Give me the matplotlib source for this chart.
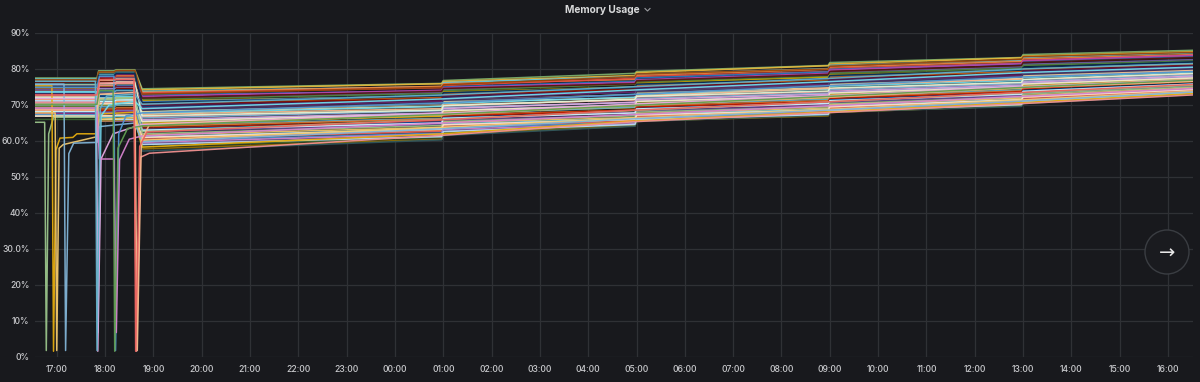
import matplotlib
matplotlib.use("Agg")
import matplotlib.pyplot as plt
import matplotlib.dates as mdates
from matplotlib.patches import Ellipse
from matplotlib.lines import Line2D
from datetime import datetime

# ---------------- data (memory usage %) ----------------
knot_times = ["16:33", "17:50", "17:52", "18:11", "18:14", "18:37", "18:46",
              "00:58", "01:00", "04:58", "05:00", "08:58", "09:00", "12:58", "13:00", "16:31"]

pre_1633 = [77.5, 76.0, 77.2, 70.9, 76.2, 75.9, 74.4, 75.3, 76.8, 74.6,
            73.1, 74.0, 76.6, 73.4, 73.0, 72.7, 75.7, 72.0, 71.7, 71.4,
            71.0, 76.4, 70.4, 70.0, 69.7, 75.0, 69.0, 68.7, 68.4, 68.0,
            67.7, 74.2, 67.0, 67.2, 73.7, 71.6, 72.5, 67.3, 68.9, 70.7,
            66.0, 69.3, 76.0, 77.0, 76.3, 75.1, 74.8, 73.2, 72.2, 70.2,
            68.2, 66.9, 71.2]
bump_1752 = [79.5, 79.0, 78.5, 78.0, 77.5, 77.0, 76.5, 76.0, 75.8, 75.2,
             74.8, 76.5, 77.2, 73.8, 77.8, 73.2, 72.9, 76.8, 72.0, 71.8,
             75.5, 71.0, 70.6, 74.5, 70.0, 69.6, 73.5, 68.9, 68.5, 72.5,
             67.9, 67.5, 71.5, 66.9, 66.5, 70.5, 65.9, 69.5, 65.5, 68.0,
             66.2, 65.6, 78.8, 79.2, 76.5, 78.2, 74.9, 73.3, 76.0, 70.3,
             71.0, 67.0, 66.0]
bump_1815 = [79.8, 79.3, 79.0, 78.2, 77.8, 77.4, 77.0, 76.8, 76.2, 75.9,
             75.5, 75.0, 74.6, 74.2, 78.5, 73.5, 73.0, 77.2, 72.4, 72.0,
             76.0, 71.5, 71.0, 75.0, 70.2, 69.9, 74.0, 69.2, 68.8, 73.0,
             68.1, 67.8, 72.0, 67.1, 66.8, 71.0, 66.1, 70.0, 65.6, 68.5,
             66.3, 65.8, 79.2, 79.6, 76.6, 78.8, 75.1, 73.4, 76.4, 70.5,
             71.4, 67.2, 66.0]
at_1846 = [74.5, 74.2, 73.8, 73.5, 73.3, 72.8, 72.4, 71.9, 71.6, 71.2,
           70.9, 70.4, 70.0, 69.5, 69.2, 68.8, 68.2, 68.0, 67.6, 67.4,
           66.8, 66.4, 65.9, 65.6, 65.2, 64.9, 64.4, 64.0, 63.5, 63.2,
           62.8, 62.6, 62.0, 61.6, 61.1, 60.8, 60.4, 59.9, 59.6, 59.2,
           58.4, 57.8, 57.2, 73.0, 71.9, 70.6, 69.9, 68.6, 67.0, 65.4,
           63.0, 61.0, 59.0]
at_0058 = [76.0, 75.9, 75.1, 75.2, 74.8, 73.9, 74.1, 73.5, 73.2, 72.4,
           72.6, 72.1, 71.8, 71.0, 71.0, 70.4, 70.3, 69.7, 69.6, 69.0,
           68.5, 68.4, 67.8, 67.7, 67.0, 66.9, 66.3, 66.1, 65.6, 65.3,
           65.0, 64.6, 64.3, 63.8, 63.4, 63.0, 62.7, 62.2, 61.9, 61.4,
           61.0, 60.5, 60.3, 74.9, 73.8, 72.5, 71.3, 70.4, 68.6, 67.5,
           65.0, 63.3, 61.2]
at_0100 = [76.8, 76.5, 76.2, 75.9, 75.4, 75.0, 74.8, 74.3, 74.0, 73.6,
           73.3, 73.0, 72.6, 72.2, 71.8, 71.5, 71.1, 70.8, 70.4, 70.0,
           69.7, 69.3, 69.0, 68.6, 68.2, 67.9, 67.5, 67.2, 66.8, 66.5,
           66.1, 65.8, 65.4, 65.1, 64.7, 64.4, 64.0, 63.6, 63.2, 62.8,
           62.3, 61.8, 61.5, 75.6, 74.6, 73.4, 72.4, 71.3, 69.8, 68.4,
           66.3, 64.5, 62.6]
at_0458 = [78.8, 78.2, 77.9, 77.1, 77.4, 76.6, 76.3, 75.9, 75.8, 75.0,
           74.9, 74.2, 74.4, 73.5, 73.6, 72.8, 72.9, 72.0, 72.2, 71.4,
           71.5, 70.7, 70.8, 70.0, 70.1, 69.3, 69.4, 68.6, 68.6, 67.9,
           67.9, 67.2, 67.0, 66.5, 66.2, 65.8, 65.5, 65.2, 64.8, 64.6,
           64.3, 64.2, 64.1, 77.9, 75.9, 74.9, 74.0, 72.7, 71.6, 69.9,
           67.8, 66.0, 64.6]
at_0500 = [79.3, 79.0, 78.5, 78.2, 77.9, 77.5, 77.0, 76.8, 76.4, 76.0,
           75.6, 75.3, 75.0, 74.6, 74.3, 73.9, 73.6, 73.2, 72.9, 72.5,
           72.2, 71.8, 71.5, 71.1, 70.8, 70.4, 70.1, 69.7, 69.4, 69.0,
           68.7, 68.3, 68.0, 67.6, 67.3, 66.9, 66.6, 66.3, 66.0, 65.8,
           65.6, 65.5, 65.4, 78.6, 76.7, 75.8, 74.8, 73.7, 72.4, 71.0,
           68.9, 67.2, 65.9]
at_0858 = [81.0, 80.9, 80.1, 79.9, 79.3, 79.2, 78.8, 78.5, 77.9, 77.7,
           77.1, 77.0, 76.4, 76.3, 75.8, 75.5, 75.1, 74.8, 74.4, 74.6,
           73.7, 73.3, 73.0, 72.6, 72.3, 71.9, 71.6, 71.2, 70.9, 70.5,
           70.2, 69.8, 69.5, 69.1, 68.8, 68.4, 68.1, 67.9, 67.5, 67.4,
           67.1, 67.0, 67.2, 80.0, 78.5, 77.3, 76.3, 75.2, 73.9, 72.4,
           70.4, 68.6, 67.4]
at_0900 = [81.8, 81.4, 81.0, 80.5, 80.2, 79.9, 79.7, 79.1, 78.8, 78.4,
           78.0, 77.7, 77.3, 77.0, 76.6, 76.3, 75.9, 75.6, 75.2, 75.5,
           74.5, 74.2, 73.8, 73.5, 73.1, 72.8, 72.4, 72.1, 71.7, 71.4,
           71.0, 70.7, 70.3, 70.0, 69.6, 69.3, 69.0, 68.7, 68.4, 68.2,
           68.0, 67.9, 68.0, 80.8, 79.3, 78.2, 77.1, 76.1, 74.7, 73.3,
           71.2, 69.5, 68.3]
at_1258 = [83.2, 83.1, 82.4, 82.1, 81.6, 81.4, 81.5, 80.6, 80.2, 79.6,
           79.5, 79.3, 78.8, 78.6, 78.2, 77.9, 77.5, 77.3, 76.8, 77.2,
           76.2, 75.9, 75.5, 75.3, 74.8, 74.6, 74.2, 73.9, 73.7, 73.3,
           72.8, 72.6, 72.2, 71.9, 71.5, 71.3, 70.8, 70.6, 70.2, 70.1,
           69.8, 69.8, 69.6, 82.7, 81.0, 79.7, 78.6, 77.8, 76.3, 75.0,
           73.0, 71.5, 70.1]
at_1300 = [84.0, 83.6, 83.2, 82.8, 82.4, 82.0, 82.3, 81.3, 81.0, 80.2,
           80.3, 80.0, 79.6, 79.3, 79.0, 78.6, 78.3, 78.0, 77.6, 77.9,
           77.0, 76.6, 76.3, 76.0, 75.6, 75.3, 75.0, 74.6, 74.5, 74.0,
           73.6, 73.3, 73.0, 72.6, 72.3, 72.0, 71.6, 71.3, 71.0, 70.8,
           70.6, 70.5, 70.4, 83.4, 81.8, 80.4, 79.4, 78.5, 77.1, 75.8,
           73.8, 72.2, 70.9]
at_1631 = [85.2, 84.8, 84.5, 84.0, 83.7, 83.4, 83.8, 82.6, 82.2, 81.4,
           81.6, 81.3, 81.0, 80.7, 80.4, 80.1, 79.8, 79.5, 79.2, 79.6,
           78.6, 78.3, 78.0, 77.7, 77.4, 77.1, 76.8, 76.5, 76.9, 75.9,
           75.6, 75.3, 75.0, 74.7, 73.9, 74.1, 73.9, 73.7, 73.5, 73.3,
           73.1, 73.0, 72.9, 84.6, 83.2, 82.0, 80.9, 80.0, 78.8, 77.5,
           75.8, 74.3, 73.4]

# series that restart (drop to ~0 and come back)
drop_a_times = ["16:33", "16:45", "16:47", "16:50", "16:56", "17:50", "17:53", "18:37", "18:46",
                "01:00", "05:00", "09:00", "13:00", "16:31"]
drop_a_values = [65.2, 65.2, 1.8, 62.0, 66.6, 66.6, 71.5, 72.0, 62.6, 66.0, 68.5, 70.9, 73.4, 75.5]
drop_b_times = ["16:33", "16:54", "16:56", "16:59", "17:04", "17:20", "17:25", "17:50", "17:53",
                "18:37", "18:46", "01:00", "05:00", "09:00", "13:00", "16:31"]
drop_b_values = [75.3, 75.3, 1.6, 57.5, 60.8, 61.0, 62.0, 62.0, 67.5, 68.0, 58.3, 62.0, 65.6, 68.1, 70.7, 73.2]
drop_c_times = ["16:33", "16:58", "17:00", "17:03", "17:08", "17:50", "17:53", "18:37", "18:46",
                "01:00", "05:00", "09:00", "13:00", "16:31"]
drop_c_values = [67.8, 67.8, 1.8, 58.0, 59.0, 61.2, 66.0, 66.5, 60.2, 63.8, 66.4, 68.8, 71.4, 73.8]
drop_d_times = ["16:33", "17:09", "17:11", "17:15", "17:21", "17:50", "17:53", "18:37", "18:46",
                "01:00", "05:00", "09:00", "13:00", "16:31"]
drop_d_values = [75.8, 75.8, 1.8, 56.5, 59.4, 59.6, 64.0, 65.0, 59.8, 63.4, 66.2, 68.6, 71.1, 73.6]
drop_e_times = ["16:33", "17:49", "17:51", "17:55", "18:05", "18:37", "18:46",
                "01:00", "05:00", "09:00", "13:00", "16:31"]
drop_e_values = [73.6, 73.6, 6.8, 67.0, 70.0, 71.0, 69.0, 71.7, 74.2, 76.5, 79.0, 80.5]
drop_f_times = ["16:33", "17:49", "17:51", "17:55", "18:10", "18:37", "18:46",
                "01:00", "05:00", "09:00", "13:00", "16:31"]
drop_f_values = [71.8, 71.8, 1.6, 55.0, 62.0, 64.0, 64.6, 67.7, 70.3, 72.6, 75.1, 77.0]
drop_g_times = ["16:33", "17:50", "17:53", "18:11", "18:13", "18:17", "18:26", "18:46",
                "01:00", "05:00", "09:00", "13:00", "16:31"]
drop_g_values = [74.9, 74.9, 78.0, 78.0, 1.8, 62.0, 67.0, 67.8, 70.6, 73.0, 75.4, 77.8, 79.3]
drop_h_times = ["16:33", "17:50", "17:53", "18:11", "18:14", "18:18", "18:30", "18:46",
                "01:00", "05:00", "09:00", "13:00", "16:31"]
drop_h_values = [69.2, 69.2, 55.0, 55.0, 6.8, 54.8, 60.5, 61.4, 65.0, 67.4, 69.8, 72.4, 74.6]
drop_i_times = ["16:33", "17:50", "17:53", "18:36", "18:39", "18:44", "18:55",
                "01:00", "05:00", "09:00", "13:00", "16:31"]
drop_i_values = [70.6, 70.6, 76.0, 76.4, 1.6, 55.5, 56.6, 61.6, 65.4, 67.9, 70.4, 72.8]
drop_j_times = ["16:33", "17:50", "17:53", "18:37", "18:40", "18:45", "18:55",
                "01:00", "05:00", "09:00", "13:00", "16:31"]
drop_j_values = [68.6, 68.6, 73.0, 73.5, 1.8, 60.0, 64.5, 67.3, 69.9, 72.2, 74.8, 76.6]
drop_k_times = ["16:33", "17:48", "17:50", "17:54", "18:02", "18:37", "18:46",
                "01:00", "05:00", "09:00", "13:00", "16:31"]
drop_k_values = [76.6, 76.6, 1.8, 69.0, 72.5, 73.0, 70.2, 72.8, 75.1, 77.4, 80.0, 81.5]
drop_l_times = ["16:33", "17:50", "17:53", "18:10", "18:12", "18:16", "18:28", "18:46",
                "01:00", "05:00", "09:00", "13:00", "16:31"]
drop_l_values = [70.2, 70.2, 74.0, 74.0, 1.6, 58.0, 63.5, 64.2, 67.4, 69.9, 72.4, 74.9, 76.9]
drop_m_times = ["16:33", "17:50", "17:53", "18:36", "18:38", "18:43", "18:52",
                "01:00", "05:00", "09:00", "13:00", "16:31"]
drop_m_values = [72.8, 72.8, 77.0, 77.2, 1.6, 58.5, 62.5, 65.9, 68.6, 70.9, 73.5, 75.7]

y_ticks = [0, 10, 20, 30, 40, 50, 60, 70, 80, 90]
y_tick_labels = ["0%", "10%", "20%", "30.0%", "40%", "50%", "60.0%", "70%", "80%", "90%"]
title_text = "Memory Usage"

palette = ["#7EB26D", "#EAB839", "#6ED0E0", "#EF843C", "#E24D42", "#1F78C1", "#BA43A9", "#705DA0",
           "#508642", "#CCA300", "#447EBC", "#C15C17", "#890F02", "#0A437C", "#6D1F62", "#584477",
           "#B7DBAB", "#F4D598", "#70DBED", "#F9BA8F", "#F29191", "#82B5D8", "#E5A8E2", "#AEA2E0",
           "#629E51", "#E5AC0E", "#64B0C8", "#E0752D", "#BF1B00", "#0A50A1", "#962D82", "#614D93",
           "#9AC48A", "#F2C96D", "#65C5DB", "#F9934E", "#EA6460", "#5195CE", "#D683CE", "#806EB7",
           "#3F6833", "#967302", "#2F575E", "#99440A", "#58140C", "#052B51", "#511749", "#3F2B5B",
           "#E0F9D7", "#FCEACA", "#CFFAFF", "#F9E2D2", "#BADFF4"]

BG = "#18191d"
GRID = "#2f3135"
TXT = "#c9cacd"


def to_dt(hhmm):
    h, m = map(int, hhmm.split(":"))
    day = 1 if (h, m) >= (16, 32) else 2
    return datetime(2024, 1, day, h, m)


fig = plt.figure(figsize=(12, 3.82), dpi=100, facecolor=BG)
ax = fig.add_axes([35 / 1200, 1 - 357 / 382, (1193 - 35) / 1200, (357 - 33) / 382])
ax.set_facecolor(BG)

kt = [to_dt(t) for t in knot_times]
for i in range(len(pre_1633)):
    vals = [pre_1633[i], pre_1633[i], bump_1752[i], bump_1752[i], bump_1815[i], bump_1815[i],
            at_1846[i], at_0058[i], at_0100[i], at_0458[i], at_0500[i], at_0858[i], at_0900[i],
            at_1258[i], at_1300[i], at_1631[i]]
    ax.plot(kt, vals, color=palette[i % len(palette)], lw=1.1, alpha=0.92)

drops = [(drop_a_times, drop_a_values, "#9AC48A"),
         (drop_b_times, drop_b_values, "#E5AC0E"),
         (drop_c_times, drop_c_values, "#F2C96D"),
         (drop_d_times, drop_d_values, "#82B5D8"),
         (drop_e_times, drop_e_values, "#70DBED"),
         (drop_f_times, drop_f_values, "#E5A8E2"),
         (drop_g_times, drop_g_values, "#5195CE"),
         (drop_h_times, drop_h_values, "#D683CE"),
         (drop_i_times, drop_i_values, "#F29191"),
         (drop_j_times, drop_j_values, "#F9BA8F"),
         (drop_k_times, drop_k_values, "#64B0C8"),
         (drop_l_times, drop_l_values, "#629E51"),
         (drop_m_times, drop_m_values, "#EA6460")]
for times, vals, col in drops:
    ax.plot([to_dt(t) for t in times], vals, color=col, lw=1.1, alpha=0.95)

ax.set_xlim(to_dt("16:33"), to_dt("16:31"))
ax.set_ylim(0, 90)
ax.set_yticks(y_ticks)
ax.set_yticklabels(y_tick_labels)
ax.xaxis.set_major_locator(mdates.HourLocator())
ax.xaxis.set_major_formatter(mdates.DateFormatter("%H:%M"))
ax.grid(True, color=GRID, lw=0.9)
ax.set_axisbelow(True)
for s in ax.spines.values():
    s.set_visible(False)
ax.tick_params(axis="both", length=0, colors=TXT, labelsize=6.2)
ax.tick_params(axis="x", pad=6)
ax.tick_params(axis="y", pad=4)
for lab in ax.get_xticklabels() + ax.get_yticklabels():
    lab.set_fontfamily("Inter")
    lab.set_fontweight("medium")

# title with chevron
fig.text(602 / 1200, 1 - 10 / 382, title_text, ha="center", va="center", color="#d8d9da",
         fontsize=7.3, fontweight="bold", family="Inter")
chev = Line2D([645 / 1200, 647.5 / 1200, 650 / 1200], [1 - 8.5 / 382, 1 - 11 / 382, 1 - 8.5 / 382],
              transform=fig.transFigure, color="#9a9ca0", lw=0.8)
fig.add_artist(chev)

# navigation arrow button
circ = Ellipse((1167 / 1200, 1 - 252 / 382), 44 / 1200, 44 / 382, transform=fig.transFigure,
               facecolor="#1a1b1f", edgecolor="#3a3d42", lw=1.0, zorder=5)
fig.add_artist(circ)
fig.text(1167 / 1200, 1 - 253 / 382, "\u2192", ha="center", va="center", color="#e8e8e8",
         fontsize=14, family="DejaVu Sans", zorder=6)

fig.savefig("out.png", dpi=100, facecolor=BG)
